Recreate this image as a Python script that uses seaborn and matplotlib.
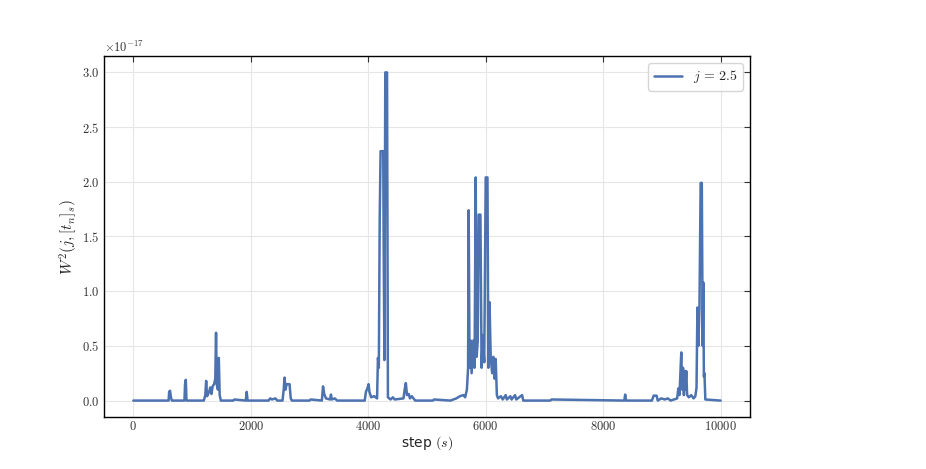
import pandas as pd
import seaborn as sns
import matplotlib

matplotlib.use("Agg")
import matplotlib.pyplot as plt

# step positions and W^2 values (in units of 1e-17)
steps = [
    0, 600, 610, 625, 640, 655, 870, 880, 893, 905,
    1200, 1225, 1240, 1255, 1290, 1310, 1330, 1350, 1375, 1395,
    1408, 1420, 1440, 1455, 1470, 1490, 1700, 1720, 1915, 1930,
    1945, 2300, 2330, 2360, 2420, 2450, 2540, 2560, 2575, 2590,
    2610, 2660, 2680, 2700, 3000, 3020, 3210, 3230, 3250, 3280,
    3350, 3365, 3380, 3430, 3470, 3940, 3960, 3985, 4005, 4020,
    4050, 4100, 4150, 4165, 4180, 4195, 4210, 4255, 4262, 4275,
    4290, 4320, 4335, 4380, 4420, 4450, 4600, 4620, 4640, 4660,
    4690, 4710, 4740, 4770, 4800, 5100, 5120, 5400, 5500, 5560,
    5620, 5650, 5680, 5700, 5710, 5725, 5740, 5760, 5790, 5810,
    5830, 5845, 5865, 5880, 5910, 5930, 5950, 5975, 6000, 6030,
    6045, 6065, 6085, 6110, 6130, 6150, 6170, 6190, 6210, 6260,
    6290, 6340, 6360, 6420, 6440, 6500, 6520, 6620, 6640, 7100,
    7120, 8360, 8375, 8390, 8830, 8860, 8910, 8930, 8990, 9050,
    9100, 9150, 9260, 9280, 9300, 9330, 9345, 9360, 9375, 9390,
    9400, 9415, 9430, 9460, 9500, 9540, 9570, 9590, 9605, 9620,
    9640, 9660, 9680, 9695, 9705, 9715, 9725, 9740, 10000,
]
w2 = [
    0.0, 0.0, 0.08, 0.09, 0.03, 0.0, 0.0, 0.15, 0.19, 0.0,
    0.0, 0.05, 0.18, 0.04, 0.08, 0.12, 0.06, 0.13, 0.15, 0.2,
    0.62, 0.15, 0.1, 0.39, 0.05, 0.0, 0.0, 0.01, 0.0, 0.08,
    0.0, 0.0, 0.02, 0.01, 0.02, 0.0, 0.0, 0.1, 0.21, 0.1,
    0.15, 0.15, 0.02, 0.0, 0.0, 0.01, 0.0, 0.13, 0.06, 0.02,
    0.01, 0.055, 0.01, 0.02, 0.0, 0.0, 0.08, 0.11, 0.15, 0.08,
    0.03, 0.04, 0.02, 0.39, 0.3, 1.66, 2.28, 2.28, 1.47, 0.37,
    3.0, 3.0, 0.03, 0.01, 0.03, 0.01, 0.02, 0.1, 0.16, 0.05,
    0.06, 0.02, 0.04, 0.02, 0.0, 0.0, 0.01, 0.0, 0.02, 0.04,
    0.05, 0.03, 0.1, 0.3, 1.74, 0.3, 0.55, 0.25, 0.55, 0.3,
    2.04, 0.4, 0.55, 1.7, 1.7, 0.3, 0.6, 0.35, 2.04, 2.04,
    0.3, 0.9, 0.4, 0.25, 0.4, 0.2, 0.38, 0.05, 0.02, 0.04,
    0.01, 0.05, 0.01, 0.04, 0.01, 0.05, 0.01, 0.05, 0.0, 0.0,
    0.01, 0.0, 0.055, 0.0, 0.0, 0.045, 0.045, 0.0, 0.02, 0.01,
    0.02, 0.0, 0.02, 0.11, 0.05, 0.44, 0.1, 0.3, 0.05, 0.27,
    0.1, 0.27, 0.05, 0.03, 0.05, 0.02, 0.04, 0.12, 0.85, 0.5,
    0.85, 1.99, 1.99, 0.5, 1.08, 0.22, 0.25, 0.01, 0.0,
]
series_label = r"$j\,=\,2.5$"

df = pd.DataFrame({"step": steps, "w2": [v * 1e-17 for v in w2]})

sns.set_theme(style="whitegrid")
plt.rcParams.update({
    "font.family": "serif",
    "font.serif": ["cmr10", "DejaVu Serif"],
    "mathtext.fontset": "cm",
    "axes.formatter.use_mathtext": True,
    "axes.edgecolor": "black",
    "axes.linewidth": 1.0,
    "grid.color": "#e6e6e6",
    "grid.linewidth": 0.8,
    "xtick.direction": "in",
    "ytick.direction": "in",
    "xtick.top": True,
    "ytick.right": True,
    "xtick.major.size": 4,
    "ytick.major.size": 4,
    "xtick.major.pad": 2,
    "ytick.major.pad": 3,
    "xtick.color": "#333333",
    "ytick.color": "#333333",
})

fig = plt.figure(figsize=(9.26, 4.69), dpi=100)
ax = fig.add_axes([0.1123, 0.1109, 0.6976, 0.7697])

sns.lineplot(data=df, x="step", y="w2", color="#4c72b0", linewidth=1.8,
             label=series_label, ax=ax)

ax.set_xlabel("step $(s)$", family="DejaVu Sans", fontsize=10, labelpad=1)
ax.set_ylabel("$W^2(j,[t_n]_s)$", fontsize=11, labelpad=2)
ax.tick_params(labelsize=9, width=0.8)
ax.ticklabel_format(axis="y", style="sci", scilimits=(0, 0), useMathText=True)
ax.yaxis.get_offset_text().set_fontsize(9)

leg = ax.legend(loc="upper right", fontsize=10, frameon=True, fancybox=True)
leg.get_frame().set_edgecolor("#cccccc")

fig.savefig("out.png", dpi=100)
